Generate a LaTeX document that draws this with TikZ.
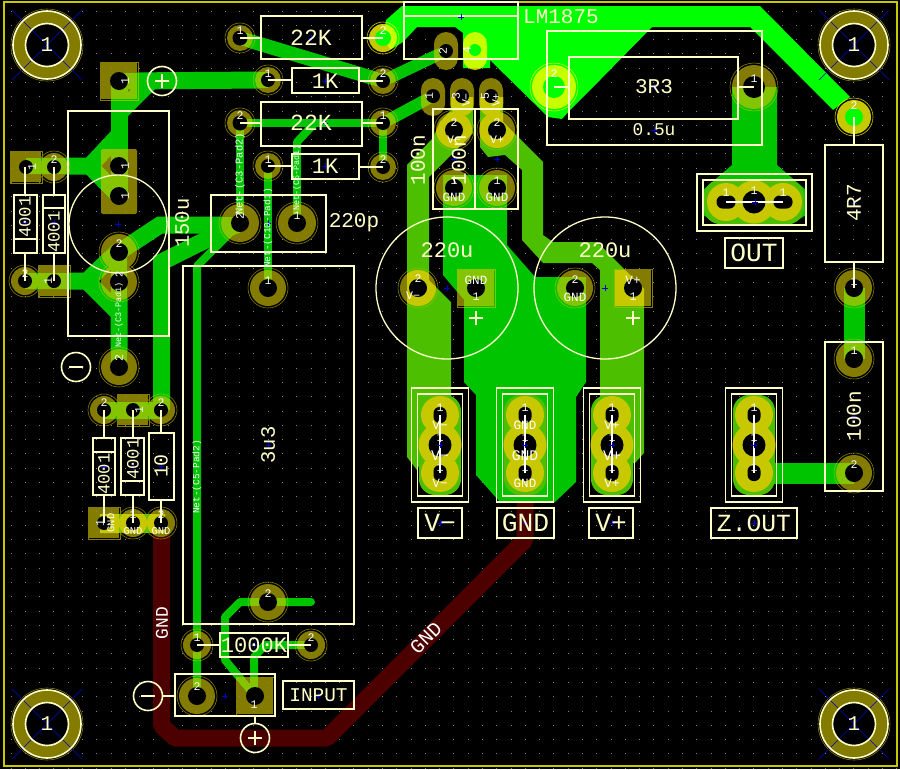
\documentclass[tikz,border=0pt]{standalone}
\usepackage{fontspec}
\setmainfont[Scale=1.05]{Liberation Mono}
\definecolor{padc}{RGB}{132,124,0}
\definecolor{hlc}{RGB}{200,200,0}
\definecolor{edgec}{RGB}{200,200,0}
\definecolor{trk}{RGB}{0,196,0}
\definecolor{vtrk}{RGB}{76,192,0}
\definecolor{bright}{RGB}{0,255,0}
\definecolor{redt}{RGB}{76,0,0}
\definecolor{silk}{RGB}{255,255,200}
\definecolor{gridc}{RGB}{132,132,132}
\definecolor{bluec}{RGB}{0,0,200}
\tikzset{
 silkline/.style={draw=silk,line width=1.6pt},
 trackline/.style={draw=trk,line width=#1,line join=miter},
 thintrack/.style={draw=trk,line width=8pt,line cap=round,line join=round},
 redtrack/.style={draw=redt,line width=17pt,line join=bevel},
 labelnode/.style={inner sep=0pt,outer sep=0pt,text=silk},
}
\newcounter{labc}
% x y rotation size text
\newcommand{\lab}[5]{\stepcounter{labc}\node[labelnode,rotate=#3] (lab\arabic{labc}) at (#1,#2) {\fontsize{#4}{#4}\selectfont #5};}
\newcommand{\pin}[5]{\stepcounter{labc}\node[labelnode,text=white,rotate=#3] (lab\arabic{labc}) at (#1,#2) {\fontsize{#4}{#4}\selectfont #5};}
% round pad: x y r
\newcommand{\rp}[3]{\fill[padc] (#1,#2) circle[radius=#3pt]; \draw[padc,line width=.6pt] (#1,#2) circle[radius=#3pt+2pt];}
\newcommand{\rph}[3]{\fill[hlc] (#1,#2) circle[radius=#3pt]; \draw[hlc,line width=.6pt] (#1,#2) circle[radius=#3pt+2pt];}
\newcommand{\sqp}[3]{\fill[padc] (#1-#3,#2-#3) rectangle (#1+#3,#2+#3); \draw[padc,line width=.6pt] (#1-#3-1,#2-#3-1) rectangle (#1+#3+1,#2+#3+1);}
\newcommand{\hole}[3]{\fill[black] (#1,#2) circle[radius=#3pt];}
\newcommand{\blue}[2]{\draw[bluec,line width=.6pt] (#1-3,#2)--(#1+3,#2) (#1,#2-3)--(#1,#2+3);}
\newcommand{\mount}[2]{
 \fill[padc] (#1,#2) circle[radius=34pt];
 \draw[padc,line width=.6pt] (#1,#2) circle[radius=36pt];
 \fill[black] (#1,#2) circle[radius=21pt];
 \draw[bluec,line width=.5pt] (#1-35,#2-35)--(#1+35,#2+35) (#1-35,#2+35)--(#1+35,#2-35);
 \draw[silk,line width=1.6pt] (#1,#2) circle[radius=34pt] (#1,#2) circle[radius=21.5pt];
}
% vertical header at x, with label text
\newcommand{\vhull}[1]{\fill[vtrk,rounded corners=16pt] (#1-21,395) rectangle (#1+21,495);}
\newcommand{\vhead}[1]{
 \fill[hlc] (#1,415) circle[radius=19pt] (#1,473) circle[radius=19pt] (#1,445) circle[radius=21.5pt];
 \fill[hlc] (#1-13,415) rectangle (#1+13,473);
 \fill[black,rounded corners=6pt] (#1-6.5,407) rectangle (#1+6.5,423);
 \fill[black,rounded corners=6pt] (#1-6.5,465) rectangle (#1+6.5,481);
 \fill[black] (#1,445) circle[radius=11.5pt];
 \draw[white,line width=1.3pt] (#1,415)--(#1,473);
 \draw[silk,line width=1.6pt] (#1-28.5,388) rectangle (#1+28.5,502) (#1-22.5,394) rectangle (#1+22.5,496);
}
\def\vminus{(451,97)--(473,97)--(473,133)--(429,177)--(429,280)--(451,302)--(451,400)--(417,470)--(407,457)--(407,165)--(433,138)--(440,122)--(451,110)--cycle}
\def\vplus{(480,97)--(503,97)--(503,122)--(518,137)--(543,162)--(543,235)--(553,242)--(597,242)--(644,289)--(644,453)--(635,463)--(600,463)--(600,270)--(592,263)--(543,263)--(522,240)--(522,170)--(505,155)--(488,157)--(480,147)--cycle}
\def\gndstrip{(100,514)--(165,514)--(165,533)--(100,533)--cycle}
\begin{document}
\begin{tikzpicture}[x=1pt,y=-1pt]
\useasboundingbox (0,0) rectangle (900,769);
\fill[black] (0,0) rectangle (900,769);
% grid
\foreach \i in {0,...,62}{\foreach \j in {0,...,53}{
 \fill[gridc] ({10.6+14.286*\i},{10.6+14.286*\j}) rectangle ++(1,1);}}
\draw[edgec,line width=2pt] (4,2) rectangle (897,766);
% back copper
\draw[redtrack] (161.7,522)--(161.7,726)--(175,738)--(327,738)--(525,540)--(525,500);
% front copper
\fill[trk] (443,175)--(443,275)--(464,300)--(464,382)--(476,395)--(476,475)--(500,502)--(555,502)--(576,482)--(576,397)--(586,382)--(586,277)--(535,277)--(507,245)--(507,175)--cycle;
\fill[vtrk] \vminus;
\fill[vtrk] \vplus;
\fill[bright] (386,20)--(402,6)--(760,6)--(850,97)--(833,110)--(750,27)--(652,27)--(600,80)--(570,110)--(562,119)--(548,117)--(490,60)--(490,68)--(463,68)--(463,33)--(455,27)--(417,27)--(403,42)--(390,50)--(383,38)--cycle;
\fill[trk] (732,87)--(777,87)--(777,165)--(806,190)--(806,215)--(790,225)--(720,225)--(703,215)--(703,190)--(732,165)--cycle;
\draw[trackline=17pt] (119,81)--(268,80);
\draw[trackline=17pt] (150,82)--(119,113);
\draw[trackline=17pt] (119,81)--(119,196);
\draw[trackline=17pt] (26,166)--(90,166)--(119,135);
\draw[trackline=17pt] (90,166)--(119,196);
\draw[trackline=14pt] (240,38)--(383,81);
\draw[trackline=12pt] (383,81)--(446,51);
\draw[trackline=12pt] (383,123)--(433,96);
\draw[thintrack] (240,123)--(383,123)--(383,167);
\draw[thintrack] (240,123)--(240,223);
\draw[thintrack] (268,166)--(268,288);
\draw[thintrack] (297,223)--(297,142)--(314,124);
\draw[trackline=17pt] (240,225)--(160,225)--(119,252)--(119,367);
\draw[trackline=17pt] (161.5,410)--(161.5,262)--(240,223);
\draw[trackline=17pt] (25,281)--(87,281)--(119,250);
\draw[trackline=17pt] (87,281)--(119,313);
\draw[trackline=17pt] (104,410)--(161.5,410);
\draw[thintrack] (197,696)--(197,266)--(240,223);
\draw[thintrack] (311,602)--(240,602)--(225,617)--(225,660)--(255,696);
\draw[thintrack] (311,645)--(265,645)--(254,657)--(254,696);
\draw[trackline=21pt] (854,288)--(854,359);
\draw[trackline=21pt] (770,473)--(854,473);
\fill[vtrk] \gndstrip;
% header hulls
\vhull{440}\vhull{525}\vhull{612}\vhull{754}
\fill[vtrk,rounded corners=16pt] (704,180) rectangle (804,224);
% pads, lightened over the copper
\begin{scope}[blend mode=lighten]
 \rp{240}{38}{13}\rp{268}{80}{13}\rp{240}{123}{13}\rp{268}{166}{13}
 \rp{383}{81}{13}\rp{383}{123}{13}\rp{383}{167}{13}
 \rph{383}{38}{14}\rph{854}{117}{17}\rph{554}{87}{22}
 \rp{240}{223}{19}\rp{297}{223}{19}
 \rp{54}{167}{14}\rp{25}{281}{14}
 \rp{119}{252}{18}\rp{119}{282}{18}\rp{119}{367}{18}
 \rp{104}{410}{14}\rp{161}{410}{14}
 \rp{133}{523}{14}\rp{161}{523}{14}
 \rp{268}{288}{18}\rp{268}{602}{18}
 \rp{197}{645}{14}\rp{311}{645}{14}\rp{197}{696}{18}
 \rp{754}{87}{22}
 \rp{454}{130}{18}\rp{497}{130}{18}\rp{454}{188}{18}\rp{497}{188}{18}
 \rp{418}{288}{18}\rp{575}{288}{18}
 \rp{854}{288}{18}\rp{854}{359}{18}\rp{854}{473}{18}
 \sqp{119}{81}{18}\sqp{26}{167}{15}\sqp{54}{281}{15}\sqp{133}{410}{15}\sqp{104}{523}{15}
 \sqp{255}{696}{18}\sqp{476}{288}{18}\sqp{633}{288}{18}
 \fill[padc,rounded corners=2pt] (101,149) rectangle (137,214);
 \fill[padc,rounded corners=12pt] (434,32) rectangle (458,70);
 \fill[hlc,rounded corners=12pt] (463,32) rectangle (487,70);
 \fill[padc,rounded corners=12pt] (421,78) rectangle (445,116);
 \fill[padc,rounded corners=12pt] (450,78) rectangle (474,116);
 \fill[padc,rounded corners=12pt] (479,78) rectangle (503,116);
\end{scope}
% pads on the supply copper turn yellow
\begin{scope}
 \clip \vminus \vplus \gndstrip;
 \fill[hlc] (454,130) circle[radius=18pt] (497,130) circle[radius=18pt] (418,288) circle[radius=18pt];
 \fill[hlc] (615,270) rectangle (651,306);
 \fill[hlc] (89,508) rectangle (119,538) (133,523) circle[radius=14pt] (161,523) circle[radius=14pt];
 \fill[hlc,rounded corners=12pt] (450,78) rectangle (474,116);
 \fill[hlc,rounded corners=12pt] (479,78) rectangle (503,116);
\end{scope}
% holes
\foreach \x/\y/\r in {240/38/7.5,268/80/7,240/123/7.5,268/166/7,383/81/7,383/123/7,383/167/7,
 26/167/7,54/167/7,25/281/7,54/281/7,104/410/7,133/410/7,161/410/7,104/523/7,133/523/7,161/523/7,
 119/81/9,119/166/9,119/196/9,119/252/9,119/282/9,119/367/9,240/223/9,297/223/9,268/288/9,268/602/9,
 197/645/7,311/645/7,197/696/9,255/696/9,754/87/11,454/130/9,497/130/9,454/188/9,497/188/9,
 418/288/9,476/288/9,575/288/9,633/288/9,854/288/9,854/359/9,854/473/9,446/51/7,433/96/7,462/96/7,491/96/7}{\hole{\x}{\y}{\r}}
\fill[bright] (383,38) circle[radius=8pt] (854,117) circle[radius=9pt] (554,87) circle[radius=11pt] (475,50) circle[radius=6pt];
% mounting holes
\mount{47}{45}\mount{854}{45}\mount{47}{724}\mount{854}{724}
% output header
\fill[hlc] (726,202) circle[radius=19pt] (783,202) circle[radius=19pt] (754,202) circle[radius=21.5pt];
\fill[hlc] (726,189) rectangle (783,215);
\fill[black,rounded corners=6pt] (716.5,195.5) rectangle (735.5,208.5);
\fill[black,rounded corners=6pt] (773.5,195.5) rectangle (792.5,208.5);
\fill[black] (754,202) circle[radius=11.5pt];
\draw[white,line width=1.3pt] (726,202)--(783,202);
\draw[silkline] (697,174) rectangle (812,231) (703,180) rectangle (806,225);
\vhead{440}\vhead{525}\vhead{612}\vhead{754}
% silk outlines
\draw[silkline] (261,16) rectangle (362,59) (261,102) rectangle (362,146);
\draw[silkline] (292,68) rectangle (359,93) (292,154) rectangle (359,179);
\draw[silkline] (240,38)--(261,38) (362,38)--(383,38) (240,123)--(261,123) (362,123)--(383,123);
\draw[silkline] (268,80)--(292,80) (359,81)--(383,81) (268,166)--(292,166) (359,167)--(383,167);
\draw[silkline] (211,195) rectangle (326,252);
\draw[silkline] (68,111) rectangle (169,336);
\draw[silk,line width=1.3pt] (118,224) circle[radius=49pt];
\draw[silkline] (14,195) rectangle (37,253) (14,239)--(37,239) (43,195) rectangle (65,253) (43,208)--(65,208);
\draw[silkline] (25,167)--(25,195) (54,167)--(54,195) (25,253)--(25,281) (54,253)--(54,281);
\draw[silkline] (93,438) rectangle (115,495) (93,452)--(115,452) (121,438) rectangle (144,495) (121,481)--(144,481) (149,433) rectangle (174,500);
\draw[silkline] (104,410)--(104,438) (133,410)--(133,438) (161,410)--(161,433) (104,495)--(104,523) (133,495)--(133,523) (161,500)--(161,523);
\draw[silkline] (183,266) rectangle (354,624);
\draw[silkline] (220,633) rectangle (288,657) (197,645)--(220,645) (288,645)--(311,645);
\draw[silkline] (175,674) rectangle (275,716) (283,681) rectangle (354,709);
\draw[silkline] (148,696) circle[radius=14.5pt] (255,738) circle[radius=14.5pt] (162.5,696)--(175,696) (255,716)--(255,723.5);
\draw[silkline] (141,696)--(155,696) (248,738)--(262,738) (255,731)--(255,745);
\draw[silkline] (162,81) circle[radius=14.5pt] (155,81)--(169,81) (162,74)--(162,88);
\draw[silkline] (76,367) circle[radius=14.5pt] (69,367)--(83,367);
\draw[silkline] (404,2) rectangle (518,59) (404,16)--(518,16);
\draw[silkline] (433,109) rectangle (518,209) (475,109)--(475,209);
\draw[silkline] (547,31) rectangle (762,145) (569,57) rectangle (738,119) (554,87)--(569,87) (738,87)--(754,87);
\draw[silk,line width=1.3pt] (447,288) circle[radius=71pt] (605,288) circle[radius=71pt];
\draw[silkline] (469,318)--(483,318) (476,311)--(476,325) (626,318)--(640,318) (633,311)--(633,325);
\draw[silkline] (825,145) rectangle (883,262) (854,117)--(854,145) (854,262)--(854,288);
\draw[silkline] (825,342) rectangle (883,491);
\draw[silkline] (725,238) rectangle (783,268);
\draw[silkline] (418,508) rectangle (462,538) (497,508) rectangle (554,538) (589,508) rectangle (633,538) (711,508) rectangle (797,538);
% centre marks
\foreach \x/\y in {118/224,311/38,325/123,325/81,325/166,268/223,654/87,654/130,755/202,854/203,854/416,25/222,54/222,104/467,133/467,161/466,268/445,254/645,225/696,318/696,454/159,497/159,447/288,605/288,440/445,525/445,612/445,754/445,440/523,612/523,754/523,525/523,461/17}{\blue{\x}{\y}}
% silk text
\lab{311}{38}{0}{22}{22K}\lab{311}{123}{0}{22}{22K}
\lab{325}{81}{0}{21}{1K}\lab{325}{166}{0}{21}{1K}
\lab{561}{17}{0}{20}{LM1875}
\lab{654}{87}{0}{20}{3R3}\lab{654}{130}{0}{17}{0.5u}
\lab{354}{223}{0}{20}{220p}
\lab{182}{223}{90}{19.5}{150u}
\lab{418}{160}{90}{20}{100n}\lab{459}{160}{90}{20}{100n}
\lab{447}{250}{0}{21}{220u}\lab{605}{250}{0}{21}{220u}
\lab{854}{203}{90}{20}{4R7}\lab{854}{416}{90}{20}{100n}
\lab{25}{217}{90}{16.5}{4001}\lab{54}{232}{90}{16.5}{4001}
\lab{104}{474}{90}{16.5}{4001}\lab{133}{459}{90}{16.5}{4001}
\lab{161}{466}{90}{19}{10}
\lab{268}{445}{90}{19.5}{3u3}
\lab{254}{645}{0}{21}{1000K}
\lab{318.5}{695}{0}{18.5}{INPUT}
\lab{754}{253}{0}{25}{OUT}
\lab{440}{523}{0}{25}{V−}\lab{525.5}{523}{0}{25}{GND}\lab{611}{523}{0}{25}{V+}\lab{754}{523}{0}{23.5}{Z.OUT}
% net and pad text
\pin{162}{623}{90}{17}{GND}
\pin{426}{638}{45}{19}{GND}
\pin{240}{174}{90}{10}{Net-(C3-Pad2)}
\pin{268}{228}{90}{9}{Net-(C10-Pad1)}
\pin{297}{178}{90}{8}{Net-(C5-Pad1)}
\pin{119}{315}{90}{8}{Net-(C3-Pad1)}
\pin{197}{477}{90}{9}{Net-(C5-Pad2)}
\foreach \x/\y in {47/45,854/45,47/724,854/724}{\lab{\x}{\y}{0}{20}{1}}
\pin{125}{81}{90}{11}{1}\pin{125}{166}{90}{11}{1}\pin{125}{196}{90}{11}{1}
\pin{119}{244}{0}{11}{2}\pin{119}{274}{90}{10}{2}\pin{119}{358}{90}{11}{2}
\pin{32}{167}{90}{11}{1}\pin{54}{160}{0}{11}{2}\pin{25}{274}{0}{11}{2}\pin{48}{281}{90}{11}{1}
\pin{240}{31}{0}{11}{1}\pin{268}{74}{0}{11}{1}\pin{240}{116}{0}{11}{2}\pin{268}{160}{0}{11}{1}
\pin{383}{31}{0}{11}{2}\pin{383}{74}{0}{11}{2}\pin{383}{116}{0}{11}{1}\pin{383}{160}{0}{11}{2}
\pin{240}{216}{90}{11}{2}\pin{297}{216}{0}{11}{1}
\pin{268}{281}{0}{11}{1}\pin{268}{594}{0}{11}{2}
\pin{197}{638}{0}{11}{1}\pin{311}{638}{0}{11}{2}\pin{197}{687}{0}{11}{2}\pin{254}{705}{0}{11}{1}
\pin{104}{403}{0}{11}{2}\pin{139}{410}{90}{11}{1}\pin{161}{403}{0}{11}{2}
\pin{100}{523}{90}{11}{1}\pin{111}{523}{90}{10}{GND}
\pin{133}{515}{0}{11}{1}\pin{133}{531}{0}{10}{GND}\pin{161}{515}{0}{11}{2}\pin{161}{531}{0}{10}{GND}
\pin{443}{51}{90}{11}{2}\pin{467}{50}{90}{11}{4}
\pin{429}{96}{90}{11}{1}\pin{456}{96}{90}{11}{3}\pin{466}{100}{90}{11}{V−}
\pin{485}{96}{90}{11}{5}\pin{496}{100}{90}{11}{V+}
\pin{454}{123}{0}{11}{2}\pin{454}{140}{0}{11}{V−}\pin{497}{123}{0}{11}{2}\pin{497}{140}{0}{11}{V+}
\pin{454}{181}{0}{11}{1}\pin{454}{197}{0}{12}{GND}\pin{497}{181}{0}{11}{1}\pin{497}{197}{0}{12}{GND}
\pin{418}{279}{0}{11}{2}\pin{413}{296}{0}{11}{V−}
\pin{476}{280}{0}{12}{GND}\pin{476}{297}{0}{11}{1}
\pin{575}{280}{0}{11}{2}\pin{575}{297}{0}{12}{GND}
\pin{633}{280}{0}{12}{V+}\pin{633}{297}{0}{11}{1}
\pin{754}{79}{0}{11}{1}\pin{554}{74}{0}{11}{2}\pin{854}{106}{0}{11}{2}\pin{854}{282}{0}{11}{1}\pin{854}{351}{0}{11}{1}\pin{854}{465}{0}{11}{2}
\pin{726}{193}{0}{11}{1}\pin{754}{191}{0}{11}{1}\pin{783}{193}{0}{11}{1}
\foreach \x/\t in {440/V−,612/V+}{
 \pin{\x}{408}{0}{11}{1}\pin{\x}{425}{0}{12}{\t}\pin{\x}{438}{0}{11}{1}\pin{\x}{456}{0}{14}{\t}\pin{\x}{468}{0}{11}{1}\pin{\x}{483}{0}{12}{\t}}
\pin{525}{408}{0}{11}{1}\pin{525}{425}{0}{12}{GND}\pin{525}{438}{0}{11}{1}\pin{525}{456}{0}{14}{GND}\pin{525}{468}{0}{11}{1}\pin{525}{483}{0}{12}{GND}
\pin{754}{408}{0}{11}{1}\pin{754}{438}{0}{11}{1}\pin{754}{468}{0}{11}{1}
\end{tikzpicture}
\end{document}
